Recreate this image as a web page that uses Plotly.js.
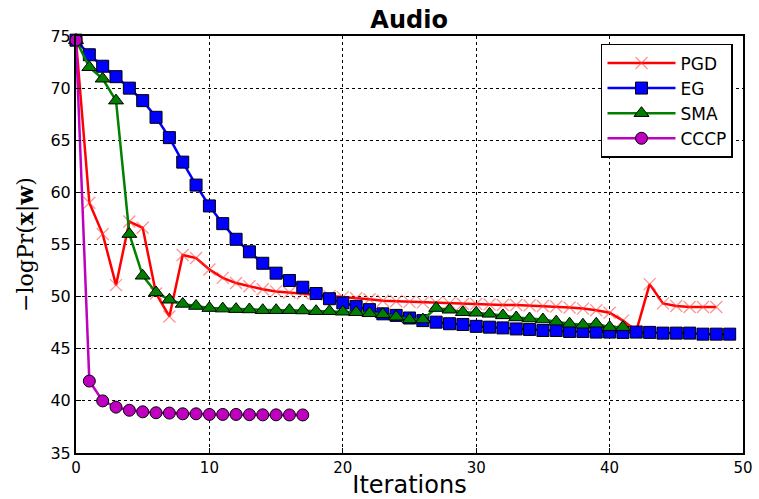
<!DOCTYPE html>
<html>
<head>
<meta charset="utf-8">
<script src="https://cdn.plot.ly/plotly-3.0.1.min.js"></script>
<style>html,body{margin:0;padding:0;background:#fff;}#chart{width:759px;height:499px;}</style>
</head>
<body>
<div id="chart"></div>
<script>
const pgdX = [0,1,2,3,4,5,6,7,8,9,10,11,12,13,14,15,16,17,18,19,20,21,22,23,24,25,26,27,28,29,30,31,32,33,34,35,36,37,38,39,40,41,42,43,44,45,46,47,48];
const pgdY = [74.6,59.0,56.0,51.1,57.2,56.6,50.3,48.1,54.0,53.7,52.6,51.8,51.3,51.0,50.7,50.5,50.4,50.3,50.2,50.05,49.95,49.85,49.75,49.6,49.55,49.5,49.45,49.4,49.35,49.3,49.3,49.25,49.2,49.2,49.15,49.1,49.05,48.95,48.85,48.7,48.45,47.7,46.7,51.2,49.35,49.1,49.0,49.0,49.0];

const egX = [0,1,2,3,4,5,6,7,8,9,10,11,12,13,14,15,16,17,18,19,20,21,22,23,24,25,26,27,28,29,30,31,32,33,34,35,36,37,38,39,40,41,42,43,44,45,46,47,48,49];
const egY = [74.6,73.2,72.1,71.1,70.0,68.8,67.2,65.25,62.9,60.7,58.7,57.0,55.5,54.3,53.2,52.25,51.55,50.9,50.3,49.8,49.4,49.06,48.75,48.35,48.2,47.95,47.7,47.55,47.4,47.33,47.15,47.07,47.0,46.9,46.85,46.75,46.75,46.66,46.66,46.6,46.6,46.57,46.6,46.57,46.5,46.5,46.5,46.4,46.4,46.4];

const smaX = [0,1,2,3,4,5,6,7,8,9,10,11,12,13,14,15,16,17,18,19,20,21,22,23,24,25,26,27,28,29,30,31,32,33,34,35,36,37,38,39,40,41];
const smaY = [74.6,72.0,70.9,68.8,56.0,52.0,50.4,49.7,49.3,49.1,48.9,48.85,48.8,48.77,48.7,48.7,48.7,48.67,48.6,48.6,48.55,48.5,48.4,48.3,48.07,47.8,47.8,48.9,48.74,48.5,48.45,48.35,48.2,48.0,47.9,47.8,47.6,47.4,47.3,47.4,47.07,47.07];

const cccpX = [0,1,2,3,4,5,6,7,8,9,10,11,12,13,14,15,16,17];
const cccpY = [74.6,41.9,40.0,39.4,39.1,38.95,38.86,38.83,38.76,38.76,38.7,38.7,38.7,38.68,38.66,38.66,38.65,38.65];

const seriesNames = ['PGD','EG','SMA','CCCP'];

const traces = [
  {x: pgdX, y: pgdY, name: seriesNames[0], mode: 'lines+markers', cliponaxis: false,
   line: {color: '#ff0000', width: 2.5},
   marker: {symbol: 'x-thin', size: 12, line: {color: 'rgba(255,60,60,0.55)', width: 1.3}}},
  {x: egX, y: egY, name: seriesNames[1], mode: 'lines+markers', cliponaxis: false,
   line: {color: '#0000ff', width: 2.5},
   marker: {symbol: 'square', size: 12, color: '#0000ff', line: {color: '#000000', width: 1}}},
  {x: smaX, y: smaY, name: seriesNames[2], mode: 'lines+markers', cliponaxis: false,
   line: {color: '#007f00', width: 2.5},
   marker: {symbol: 'triangle-up', size: 13, color: '#007f00', line: {color: '#000000', width: 1}}},
  {x: cccpX, y: cccpY, name: seriesNames[3], mode: 'lines+markers', cliponaxis: false,
   line: {color: '#bf00bf', width: 2.5},
   marker: {symbol: 'circle', size: 12, color: '#bf00bf', line: {color: '#000000', width: 1}}}
];

const layout = {
  width: 759, height: 499,
  paper_bgcolor: '#ffffff', plot_bgcolor: '#ffffff',
  margin: {l: 76, r: 16, t: 36, b: 46},
  font: {family: 'DejaVu Sans', color: '#000000'},
  title: {text: '<b>Audio</b>', font: {family: 'DejaVu Sans', size: 24, color: '#000'}, x: 0.539, xanchor: 'center', y: 0.96, yanchor: 'middle'},
  showlegend: true,
  legend: {x: 0.985, y: 0.981, xanchor: 'right', yanchor: 'top', bgcolor: '#ffffff', bordercolor: '#000000', borderwidth: 1.5,
           font: {family: 'DejaVu Sans', size: 17, color: '#000'}, itemwidth: 68},
  xaxis: {range: [0, 50], dtick: 10, tick0: 0, showgrid: true, gridcolor: '#000000', griddash: 'dot', gridwidth: 1,
          showline: true, linecolor: '#000000', linewidth: 2, mirror: true, ticks: 'inside', ticklen: 5, tickcolor: '#000',
          zeroline: false, tickfont: {family: 'DejaVu Sans', size: 15, color: '#000'},
          title: {text: 'Iterations', font: {family: 'DejaVu Sans', size: 24, color: '#000'}, standoff: 6}},
  yaxis: {range: [35, 75], dtick: 5, tick0: 35, showgrid: true, gridcolor: '#000000', griddash: 'dot', gridwidth: 1,
          showline: true, linecolor: '#000000', linewidth: 2, mirror: true, ticks: 'inside', ticklen: 5, tickcolor: '#000',
          zeroline: false, tickfont: {family: 'DejaVu Sans', size: 16, color: '#000'},
          title: {text: '\u2212logPr(<b>x</b>|<b>w</b>)', font: {family: 'DejaVu Serif', size: 22, color: '#000'}, standoff: 11}}
};

Plotly.newPlot('chart', traces, layout, {displayModeBar: false, staticPlot: true});
</script>
</body>
</html>
